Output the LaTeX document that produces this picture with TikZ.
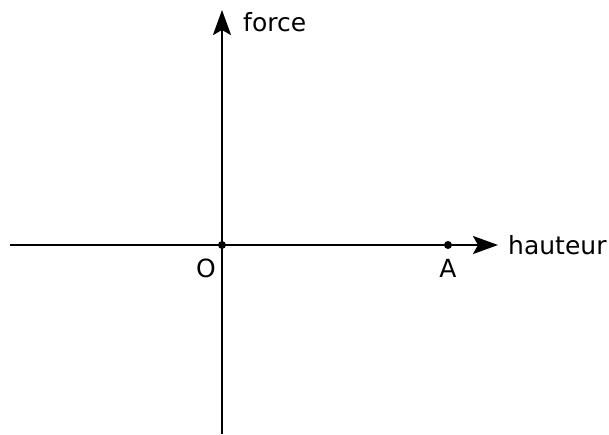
\documentclass[tikz,border=0pt]{standalone}
\usepackage{fontspec}
\setmainfont{DejaVu Sans}
\usetikzlibrary{arrows.meta,positioning}

\begin{document}
\begin{tikzpicture}[
  x=1pt, y=-1pt,
  font=\fontsize{25}{30}\selectfont,
  axis/.style={draw=black, line width=2.2pt, -{Stealth[length=25pt, width=18pt, inset=5pt]}},
  dot/.style={circle, fill=black, draw=none, inner sep=0pt, outer sep=0pt, minimum size=8pt},
  lbl/.style={inner sep=0pt}
]
  \useasboundingbox (0,0) rectangle (609,434);
  % axes
  \coordinate (xstart) at (10,245);
  \coordinate (xend) at (498,245);
  \coordinate (ystart) at (222,434);
  \coordinate (yend) at (222,10);
  \draw[axis] (xstart) -- (xend);
  \draw[axis] (ystart) -- (yend);
  % points
  \node[dot] (O) at (222,245) {};
  \node[dot] (A) at (448,245) {};
  \node[lbl, anchor=center] (Olbl) at (206,268) {O};
  \node[lbl, anchor=center] (Albl) at (448,268) {A};
  % axis labels
  \node[lbl, anchor=west] (hauteur) at (508,245) {hauteur};
  \node[lbl, anchor=west] (force) at (243,22) {force};
\end{tikzpicture}
\end{document}
